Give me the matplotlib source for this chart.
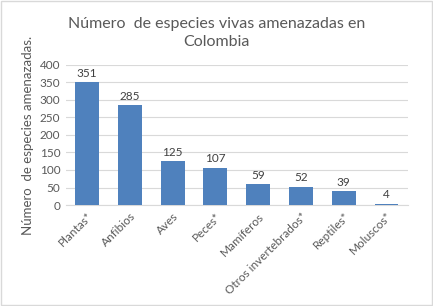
import matplotlib
matplotlib.use("Agg")
from matplotlib import pyplot as plt
from matplotlib.patches import Rectangle

categorias = ["Plantas*", "Anfibios", "Aves", "Peces*", "Mamíferos",
              "Otros invertebrados*", "Reptiles*", "Moluscos*"]
valores = [351, 285, 125, 107, 59, 52, 39, 4]
ticks_y = [0, 50, 100, 150, 200, 250, 300, 350, 400]

plt.rcParams['font.family'] = ['Lato', 'DejaVu Sans']
gris = '#595959'

fig = plt.figure(figsize=(4.33, 3.06), dpi=100)
ax = fig.add_axes([0.152, 0.330, 0.790, 0.458])

x = list(range(len(categorias)))
barras = ax.bar(x, valores, width=0.56, color='#4f81bd', zorder=3)
for xi, v in zip(x, valores):
    ax.text(xi, v + 10, str(v), ha='center', va='bottom', fontsize=8.5, color='#404040')

ax.set_xlim(-0.5, len(categorias) - 0.5)
ax.set_ylim(0, 400)
ax.set_yticks(ticks_y)
ax.set_yticklabels([str(t) for t in ticks_y], fontsize=8.5, color=gris)
ax.set_xticks(x)
ax.set_xticklabels(categorias, rotation=45, ha='right', rotation_mode='anchor',
                   fontsize=8.5, color=gris)
ax.tick_params(axis='both', length=0, pad=4)
ax.yaxis.grid(True, color='#d9d9d9', linewidth=0.8, zorder=0)
for s in ['top', 'right', 'left']:
    ax.spines[s].set_visible(False)
ax.spines['bottom'].set_color('#d9d9d9')

ax.set_ylabel("Número  de especies amenazadas.", fontsize=9.5, color=gris, labelpad=4)

fig.suptitle("Número  de especies vivas amenazadas en\nColombia", fontsize=11.5,
             color=gris, y=0.945, linespacing=1.35)

fig.patches.append(Rectangle((0.002, 0.002), 0.995, 0.995, transform=fig.transFigure,
                             fill=False, edgecolor='#d9d9d9', linewidth=1))

fig.savefig("out.png", dpi=100)
